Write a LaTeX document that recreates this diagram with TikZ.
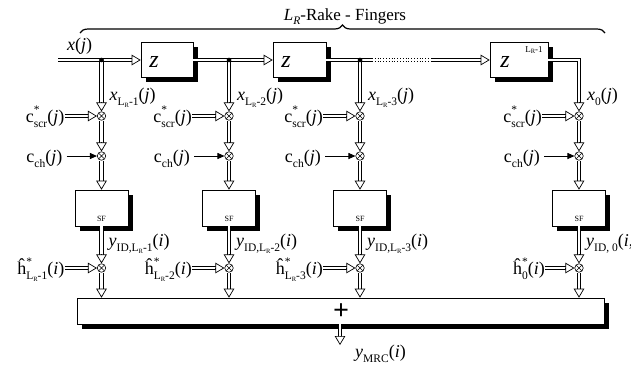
\documentclass[tikz,border=0pt]{standalone}
\usepackage{fontspec}
\setmainfont{Liberation Serif}
\usetikzlibrary{arrows.meta,calc,shadows,decorations.pathreplacing}
\newcommand\sbs[1]{\raisebox{-0.28em}{\fontsize{11.5}{11.5}\selectfont #1}}
\newcommand\sps[1]{\raisebox{0.5em}{\fontsize{11.5}{11.5}\selectfont #1}}
\newcommand\ssb[2]{\rlap{\sps{#1}}\sbs{#2}}
\newcommand\tsb[1]{\raisebox{-0.2em}{\fontsize{6.5}{6.5}\selectfont #1}}
\newcommand\darr[2]{\draw[dline, shorten >=7pt] #1 -- #2; \draw[dhead] ($#2!9pt!#1$) -- #2;}
\tikzset{
 dline/.style={double=white, double distance=2.6pt, line width=0.85pt},
 dhead/.style={line width=0.7pt, -{Triangle[length=9pt,width=10.5pt,fill=white]}},
 sarr/.style={line width=0.9pt, -{Triangle[length=7pt,width=6pt]}},
 box/.style={draw, line width=0.6pt, fill=white, drop shadow={fill=black, opacity=1, shadow xshift=4.5pt, shadow yshift=-4.5pt}},
 mult/.style={circle, draw, line width=0.6pt, minimum size=8.5pt, inner sep=0pt, fill=white,
   path picture={\draw[line width=0.5pt] (path picture bounding box.north west)--(path picture bounding box.south east) (path picture bounding box.north east)--(path picture bounding box.south west);}},
 lab/.style={font=\fontsize{18}{20}\selectfont, inner sep=0pt},
 jdot/.style={circle, fill=black, minimum size=4.5pt, inner sep=0pt},
 zl/.style={font=\fontsize{24}{24}\selectfont\itshape, inner sep=0pt},
 sfl/.style={font=\fontsize{8}{8}\selectfont, inner sep=0pt},
}
\begin{document}
\begin{tikzpicture}[x=1pt,y=-1pt]
\useasboundingbox (0,0) rectangle (631,365);
% title and brace
\node[lab, font=\fontsize{17}{19}\selectfont, anchor=base] (title) at (345,20) {\textit{L}\sbs{\textit{R}}-Rake - Fingers};
\coordinate (bl) at (80,33);
\coordinate (br) at (605,33);
\draw[decorate, decoration={brace, amplitude=8pt}, line width=1.2pt] (bl) -- (br);
% delay boxes
\node[box, minimum width=52pt, minimum height=35pt] (z1) at (167,60) {};
\node[box, minimum width=53pt, minimum height=35pt] (z2) at (299.5,60) {};
\node[box, minimum width=58pt, minimum height=35pt] (z4) at (519,60) {};
\node[zl] (z1t) at (154,62) {z};
\node[zl] (z2t) at (286,62) {z};
\node[zl] (z4t) at (505,62) {z};
\node[inner sep=0pt, font=\fontsize{9}{9}\selectfont] (z4e) at (534,50) {L\tsb{R}-1};
% input
\coordinate (in) at (58,60);
\node[lab, anchor=base west] (xj) at (67,50) {\textit{x}(\textit{j})};
\coordinate (dA) at (372,60);
\coordinate (dB) at (432,60);
\coordinate (c4) at (579,60);
% multipliers, SF boxes
\foreach \k/\x in {1/101.5,2/229,3/360,4/579}{
  \node[mult] (a\k) at (\x,116) {};
  \node[mult] (b\k) at (\x,156) {};
  \node[box, minimum width=53pt, minimum height=36pt] (sf\k) at (\x,208) {};
  \node[sfl] (sft\k) at (\x,219) {SF};
  \node[mult] (h\k) at (\x,268) {};
}
\node[box, minimum width=527pt, minimum height=26pt] (sum) at (340.5,311) {};
\node[inner sep=0pt, font=\fontsize{28}{28}\selectfont\bfseries] (plus) at (341,312) {+};
\foreach \k in {1,2,3,4}{\coordinate (s\k) at (h\k |- sum.north);}
% labels
\foreach \k/\x in {1/101.5,2/229,3/360}{
  \node[lab, anchor=base west] (xl\k) at (\x+8,100) {\textit{x}\sbs{L\tsb{R}-\k}(\textit{j})};
  \node[lab, anchor=base east] (cs\k) at (\x-37,122) {c\ssb{*}{scr}(\textit{j})};
  \node[lab, anchor=base east] (cc\k) at (\x-39,162) {c\sbs{ch}(\textit{j})};
  \node[lab, anchor=base west] (yl\k) at (\x+7,246) {\textit{y}\sbs{ID,L\tsb{R}-\k}(\textit{i})};
  \node[lab, anchor=base east] (hl\k) at (\x-37,274) {ĥ\ssb{*}{L\tsb{R}-\k}(\textit{i})};
}
\node[lab, anchor=base west] (xl4) at (587,100) {\textit{x}\sbs{0}(\textit{j})};
\node[lab, anchor=base east] (cs4) at (542,122) {c\ssb{*}{scr}(\textit{j})};
\node[lab, anchor=base east] (cc4) at (540,162) {c\sbs{ch}(\textit{j})};
\node[lab, anchor=base west] (yl4) at (586,246) {\textit{y}\sbs{ID, 0}(\textit{i},};
\node[lab, anchor=base east] (hl4) at (545,274) {ĥ\ssb{*}{0}(\textit{i})};
% main line
\darr{(in)}{(z1.west)}
\darr{(z1.east)}{(z2.west)}
\draw[dline] (z2.east) -- (dA);
\draw[dotted, line width=0.8pt] ([yshift=1.7pt]dA) -- ([yshift=1.7pt]dB);
\draw[dotted, line width=0.8pt] ([yshift=-1.7pt]dA) -- ([yshift=-1.7pt]dB);
\darr{(dB)}{(z4.west)}
\draw[dline, shorten >=7pt] (z4.east) -- (c4) -- (a4.north);
\draw[dhead] ($(a4.north)!9pt!(c4)$) -- (a4.north);
% branches
\node[jdot] (j1) at (101.5,60) {};
\node[jdot] (j2) at (229,60) {};
\node[jdot] (j3) at (360,60) {};
\foreach \k in {1,2,3}{\darr{(j\k)}{(a\k.north)}}
\foreach \k in {1,2,3}{\node[jdot] at (j\k) {};}
\foreach \k in {1,2,3,4}{
  \darr{(a\k.south)}{(b\k.north)}
  \darr{(b\k.south)}{(sf\k.north)}
  \darr{(sf\k.south)}{(h\k.north)}
  \darr{(h\k.south)}{(s\k)}
  \darr{(cs\k.east |- a\k)}{(a\k.west)}
  \draw[sarr] ([xshift=4pt]cc\k.east |- b\k) -- (b\k.west);
  \darr{(hl\k.east |- h\k)}{(h\k.west)}
}
% output
\coordinate (o1) at (340,345);
\darr{(o1 |- sum.south)}{(o1)}
\node[lab, anchor=base west] (yout) at (355,357) {\textit{y}\sbs{MRC}(\textit{i})};
\end{tikzpicture}
\end{document}
